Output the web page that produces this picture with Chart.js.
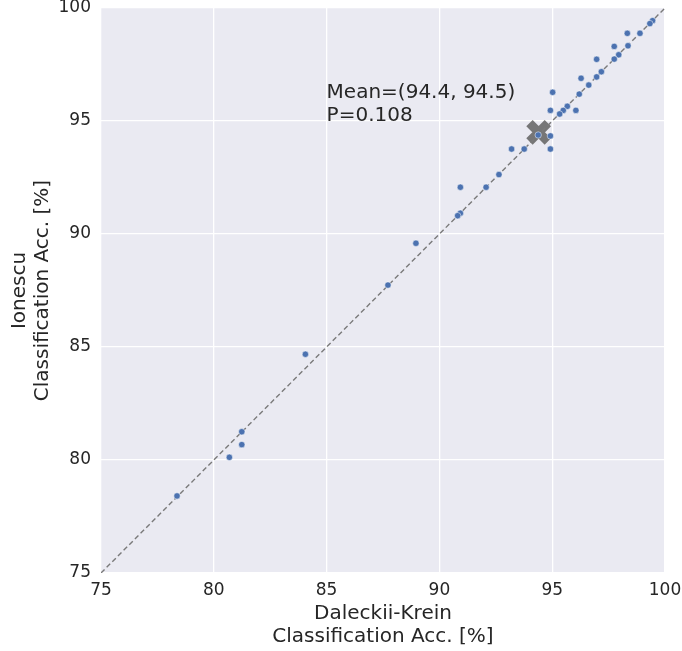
<!DOCTYPE html>
<html>
<head>
<meta charset="utf-8">
<script src="https://cdn.jsdelivr.net/npm/chart.js@4.4.1/dist/chart.umd.min.js"></script>
<style>
  body { margin: 0; background: #fff; }
</style>
</head>
<body>
<canvas id="myChart" width="682" height="651"></canvas>
<script>
// Daleckii-Krein accuracy (x) vs Ionescu accuracy (y), one entry per run
var dkAcc = [99.45, 99.33, 98.89, 98.33, 98.36, 97.75, 97.95, 97.75, 96.97, 97.18,
             96.97, 96.28, 96.62, 96.20, 95.02, 95.67, 95.49, 95.33, 94.92, 96.05,
             94.38, 94.92, 93.20, 93.76, 94.92, 92.64, 92.07, 90.93, 90.93, 90.81,
             88.96, 87.72, 84.06, 81.24, 81.24, 80.69, 78.37];
var ionescuAcc = [99.44, 99.31, 98.88, 98.88, 98.33, 98.30, 97.93, 97.74, 97.73, 97.18,
                  96.95, 96.89, 96.59, 96.19, 96.27, 95.65, 95.47, 95.31, 95.47, 95.47,
                  94.38, 94.34, 93.76, 93.76, 93.76, 92.63, 92.07, 92.07, 90.92, 90.81,
                  89.59, 87.74, 84.68, 81.25, 80.68, 80.12, 78.41];
var meanPoint = [94.4, 94.5];
var pValue = 0.108;
var axisRange = [75, 100];
var tickStep = 5;

var points = dkAcc.map(function (v, i) { return { x: v, y: ionescuAcc[i] }; });
var textColor = '#262626';

var plotBg = {
    id: 'plotBg',
    beforeDraw: function (chart) {
        var a = chart.chartArea, c = chart.ctx;
        c.save();
        c.fillStyle = '#EAEAF2';
        c.fillRect(a.left, a.top, a.right - a.left, a.bottom - a.top);
        c.restore();
    }
};

var meanLabel = {
    id: 'meanLabel',
    afterDatasetsDraw: function (chart) {
        var c = chart.ctx, xs = chart.scales.x, ys = chart.scales.y;
        c.save();
        c.fillStyle = textColor;
        c.font = '20px "DejaVu Sans"';
        c.textBaseline = 'alphabetic';
        c.textAlign = 'left';
        var x = xs.getPixelForValue(85);
        c.fillText('Mean=(' + meanPoint[0] + ', ' + meanPoint[1] + ')', x, ys.getPixelForValue(96.0));
        c.fillText('P=' + pValue, x, ys.getPixelForValue(95.01));
        c.restore();
    }
};

var ctx = document.getElementById('myChart').getContext('2d');
var myChart = new Chart(ctx, {
    type: 'scatter',
    data: {
        datasets: [{
            label: 'runs',
            order: 1,
            data: points,
            pointRadius: 3.2,
            backgroundColor: '#4C72B0',
            borderColor: '#ffffff',
            borderWidth: 0.5
        }, {
            label: 'diagonal',
            type: 'line',
            order: 2,
            data: [{ x: axisRange[0], y: axisRange[0] }, { x: axisRange[1], y: axisRange[1] }],
            borderColor: '#7a7a7a',
            borderWidth: 1.4,
            borderDash: [5, 3],
            pointRadius: 0,
            fill: false
        }, {
            label: 'mean',
            order: 3,
            data: [{ x: meanPoint[0], y: meanPoint[1] }],
            pointStyle: 'crossRot',
            pointRadius: 13,
            borderWidth: 9,
            borderColor: 'rgba(112, 112, 112, 0.95)',
            backgroundColor: 'rgba(112, 112, 112, 0.95)'
        }]
    },
    options: {
        responsive: false,
        animation: false,
        events: [],
        layout: { autoPadding: false, padding: { top: 8, right: 17, left: 0, bottom: 0 } },
        plugins: { legend: { display: false }, tooltip: { enabled: false } },
        scales: {
            x: {
                min: axisRange[0], max: axisRange[1],
                border: { display: false },
                grid: { color: '#ffffff', lineWidth: 1.3, drawTicks: false },
                ticks: { stepSize: tickStep, padding: 9, color: textColor,
                         font: { family: 'DejaVu Sans', size: 17, lineHeight: 1 } },
                title: { display: true, text: ['Daleckii-Krein', 'Classification Acc. [%]'],
                         color: textColor, padding: { top: 0, bottom: 3 },
                         font: { family: 'DejaVu Sans', size: 20, lineHeight: 1.15 } },
                afterFit: function (s) {
                    s.height = 78;
                    s.paddingLeft = 0;
                    s.paddingRight = 0;
                }
            },
            y: {
                min: axisRange[0], max: axisRange[1],
                border: { display: false },
                grid: { color: '#ffffff', lineWidth: 1.3, drawTicks: false },
                ticks: { stepSize: tickStep, padding: 10, color: textColor,
                         font: { family: 'DejaVu Sans', size: 17, lineHeight: 1 } },
                title: { display: true, text: ['Ionescu', 'Classification Acc. [%]'],
                         color: textColor, padding: { top: 8, bottom: 0 },
                         font: { family: 'DejaVu Sans', size: 20, lineHeight: 1.15 } },
                afterFit: function (s) {
                    s.width = 101;
                    s.paddingTop = 0;
                    s.paddingBottom = 0;
                }
            }
        }
    },
    plugins: [plotBg, meanLabel]
});
</script>
</body>
</html>
